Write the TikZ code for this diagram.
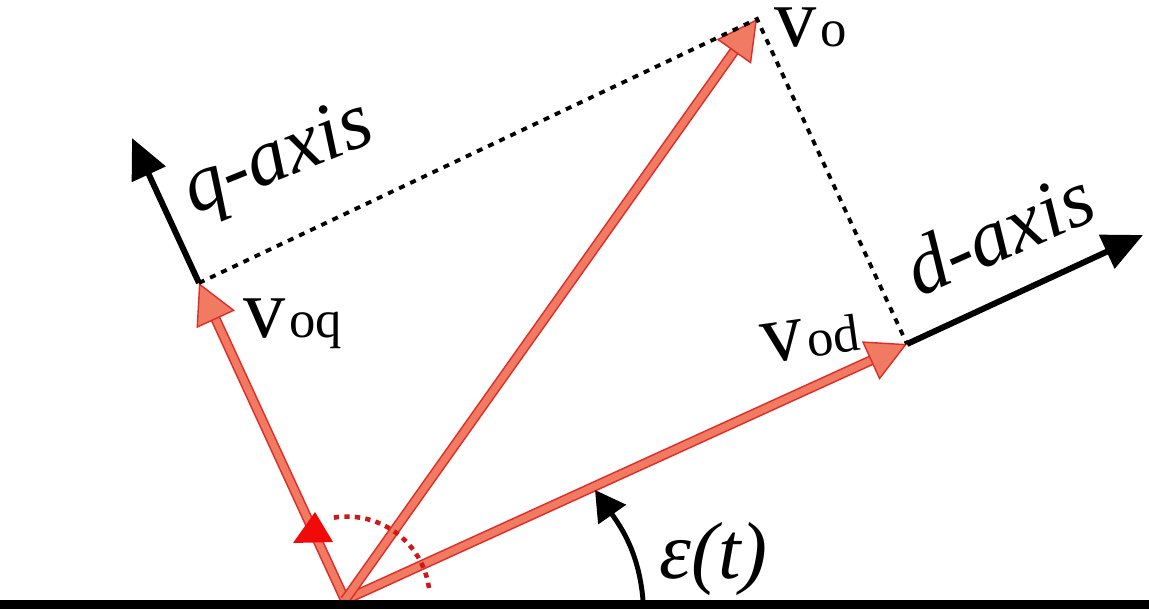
\documentclass[tikz,border=0pt]{standalone}
\usepackage{fontspec}
\setmainfont{Liberation Serif}
\usetikzlibrary{arrows.meta}
\definecolor{vecfill}{RGB}{240,122,98}
\definecolor{vecedge}{RGB}{225,45,40}
\definecolor{arcred}{RGB}{205,25,25}
\definecolor{tipred}{RGB}{240,10,10}
\newcommand{\vlab}[1]{v\kern2pt{\fontsize{30}{30}\selectfont #1}}

\begin{document}
\begin{tikzpicture}[
  every node/.style={inner sep=0pt},
  big/.style={font=\fontsize{46}{46}\selectfont},
  vfont/.style={font=\fontsize{48}{48}\selectfont},
  vec/.style={draw=vecfill, line width=4pt,
    -{Triangle[length=0.8cm,width=0.84cm,fill=vecfill,color=vecedge,line width=0.8pt]},
    preaction={draw=vecedge, line width=5.8pt, -, shorten >=0.75cm}},
  axisline/.style={line width=3.4pt, -{Triangle[length=0.8cm,width=0.72cm]}},
  proj/.style={line width=2.2pt, dash pattern=on 3.4pt off 3.6pt},
  anglearc/.style={arcred, line width=2.6pt, dash pattern=on 3pt off 3pt}
]
\useasboundingbox (0,0) rectangle (22.98,12.18);
% points of the diagram
\coordinate (O) at (6.90,0.18);
\coordinate (vod) at (18.14,5.30);
\coordinate (voq) at (3.98,6.52);
\coordinate (vo) at (15.14,11.80);
\coordinate (dend) at (22.86,7.48);
\coordinate (qend) at (2.64,9.42);
\coordinate (e1) at (12.86,0.18);
\coordinate (e2) at (11.90,2.38);
\coordinate (a1) at (8.58,0.42);
% vectors
\draw[vec] (O) -- (vod);
\draw[vec] (O) -- (voq);
\draw[vec] (O) -- (vo);
% axes
\draw[axisline] (vod) -- (dend);
\draw[axisline] (voq) -- (qend);
% projections
\draw[proj] (voq) -- (vo) -- (vod);
% right angle
\draw[anglearc] (a1) arc[start angle=8, end angle=100, radius=1.66];
\fill[tipred] (6.30,1.94) -- (5.86,1.32) -- (6.66,1.34) -- cycle;
% epsilon
\draw[line width=2.8pt, -{Triangle[length=0.6cm,width=0.66cm]}] (e1) to[out=95, in=-55] (e2);
\fill (0,0) rectangle (22.98,0.18);
% labels
\node[vfont, anchor=base west] (lvo) at (15.48,11.24) {\vlab{o}};
\node[vfont, anchor=base west] (lvoq) at (4.86,5.42) {\vlab{oq}};
\node[vfont, anchor=base west, rotate=8] (lvod) at (15.28,4.90) {\vlab{od}};
\node[big, anchor=base west, rotate=22] (lq) at (3.88,7.88) {\itshape q-axis};
\node[big, anchor=base west, rotate=24] (ld) at (18.38,6.22) {\itshape d-axis};
\node[big, anchor=base west] (leps) at (13.18,0.62) {\itshape ε(t)};
\end{tikzpicture}
\end{document}
